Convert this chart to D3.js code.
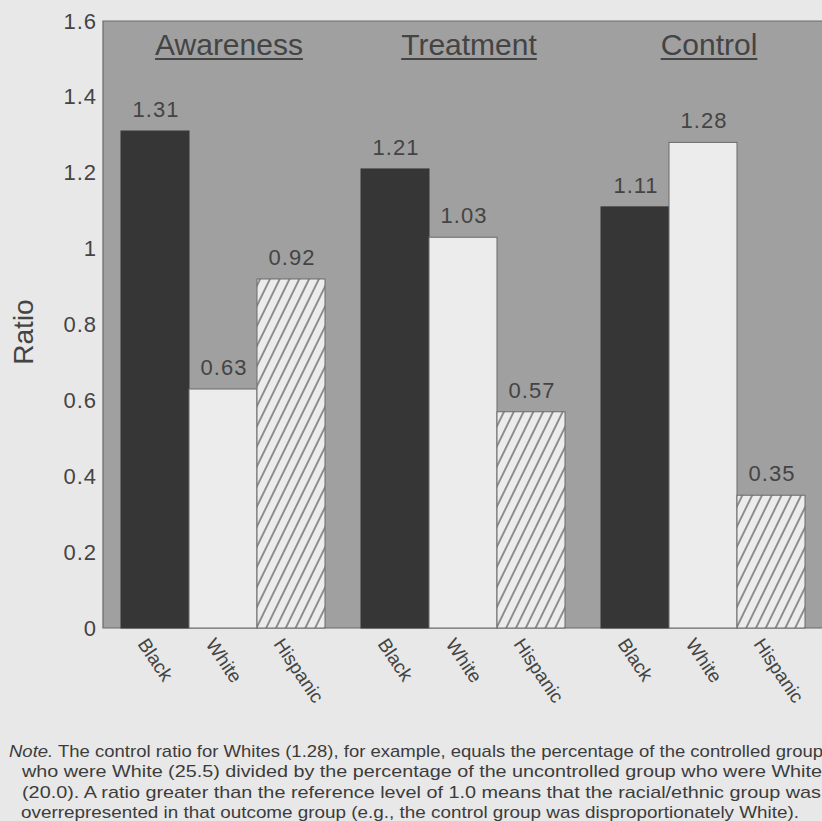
<!DOCTYPE html>
<html>
<head>
<meta charset="utf-8">
<script src="https://cdn.jsdelivr.net/npm/d3@7"></script>
<style>
  body { margin: 0; background: #e8e8e8; }
  svg { display: block; }
  text { font-family: "Liberation Sans", Arial, sans-serif; fill: #444; }
</style>
</head>
<body>
<div id="container"></div>
<script>
/* DATA */
const groups = ["Awareness", "Treatment", "Control"];
const races = ["Black", "White", "Hispanic"];
const awareness = [1.31, 0.63, 0.92];
const treatment = [1.21, 1.03, 0.57];
const control = [1.11, 1.28, 0.35];
const yTicks = [0, 0.2, 0.4, 0.6, 0.8, 1, 1.2, 1.4, 1.6];
const noteLines = [
  "The control ratio for Whites (1.28), for example, equals the percentage of the controlled group",
  "who were White (25.5) divided by the percentage of the uncontrolled group who were White",
  "(20.0). A ratio greater than the reference level of 1.0 means that the racial/ethnic group was",
  "overrepresented in that outcome group (e.g., the control group was disproportionately White)."
];

/* CONSTANTS */
const width = 822, height = 821;
const plotL = 103, plotR = 823, plotT = 21, plotB = 628;

const rows = [awareness, treatment, control];
const data = groups.map((g, i) => ({
  group: g,
  values: races.map((r, j) => ({ race: r, value: rows[i][j] }))
}));

const svg = d3.select("#container")
  .append("svg")
  .attr("width", width)
  .attr("height", height);

// hatch pattern for Hispanic
const hs = 8.8;
const pat = svg.append("defs").append("pattern")
  .attr("id", "hatch")
  .attr("patternUnits", "userSpaceOnUse")
  .attr("width", hs)
  .attr("height", hs)
  .attr("patternTransform", "rotate(26)");
pat.append("rect").attr("width", hs).attr("height", hs).attr("fill", "#ececec");
pat.append("line")
  .attr("x1", 1).attr("y1", 0).attr("x2", 1).attr("y2", hs)
  .attr("stroke", "#5c5c5c").attr("stroke-width", 1.3);

// SCALES
const x0 = d3.scaleBand()
  .domain(groups)
  .range([plotL, plotR])
  .paddingInner(0.15)
  .paddingOuter(0.075);

const x1 = d3.scaleBand()
  .domain(races)
  .range([0, x0.bandwidth()]);

const y = d3.scaleLinear()
  .domain([0, 1.6])
  .range([plotB, plotT]);

const fills = { Black: "#363636", White: "#ececec", Hispanic: "url(#hatch)" };

// plot background
svg.append("rect")
  .attr("x", plotL).attr("y", plotT)
  .attr("width", plotR - plotL).attr("height", plotB - plotT)
  .attr("fill", "#a0a0a0");

// frame lines
svg.append("path")
  .attr("d", `M${plotR},${plotT}H${plotL}V${plotB}H${plotR}`)
  .attr("fill", "none")
  .attr("stroke", "#6a6a6a")
  .attr("stroke-width", 1.2);

// y axis
const yAxis = d3.axisLeft(y)
  .tickValues(yTicks)
  .tickFormat(d3.format("~g"))
  .tickSize(0)
  .tickPadding(6);

svg.append("g")
  .attr("transform", `translate(${plotL},0)`)
  .call(yAxis)
  .call(g => g.select(".domain").remove())
  .selectAll("text")
  .style("font-family", "'Liberation Sans', Arial, sans-serif")
  .style("font-size", "22px")
  .style("letter-spacing", "1px")
  .style("fill", "#444");

svg.append("text")
  .attr("transform", "translate(33,332) rotate(-90)")
  .attr("text-anchor", "middle")
  .style("font-size", "28px")
  .text("Ratio");

// bars
const gg = svg.append("g")
  .selectAll("g")
  .data(data)
  .join("g")
  .attr("transform", d => `translate(${x0(d.group)},0)`);

gg.selectAll("rect")
  .data(d => d.values)
  .join("rect")
  .attr("x", d => x1(d.race))
  .attr("y", d => y(d.value))
  .attr("width", x1.bandwidth())
  .attr("height", d => plotB - y(d.value))
  .attr("fill", d => fills[d.race])
  .attr("stroke", d => d.race === "Black" ? "#363636" : "#6a6a6a")
  .attr("stroke-width", 1);

gg.selectAll("text.val")
  .data(d => d.values)
  .join("text")
  .attr("class", "val")
  .attr("x", d => x1(d.race) + x1.bandwidth() / 2 + 1)
  .attr("y", d => y(d.value) - 14)
  .attr("text-anchor", "middle")
  .style("font-size", "22px")
  .style("letter-spacing", "1px")
  .text(d => d.value.toFixed(2));

// x labels, rotated
gg.selectAll("text.cat")
  .data(d => d.values)
  .join("text")
  .attr("class", "cat")
  .attr("transform", d => `translate(${x1(d.race) + x1.bandwidth() / 2 - 18},${plotB + 16}) rotate(56)`)
  .style("font-size", "19px")
  .text(d => d.race);

// group headers with underline
gg.each(function(d) {
  const g = d3.select(this);
  const cx = x0.bandwidth() / 2 + 6;
  const t = g.append("text")
    .attr("x", cx)
    .attr("y", 55)
    .attr("text-anchor", "middle")
    .style("font-size", "30px")
    .text(d.group);
  const w = t.node().getComputedTextLength();
  g.append("line")
    .attr("x1", cx - w / 2).attr("x2", cx + w / 2)
    .attr("y1", 59).attr("y2", 59)
    .attr("stroke", "#444")
    .attr("stroke-width", 2);
});

// note
const note = svg.append("g")
  .style("font-family", "'Liberation Sans', Arial, sans-serif")
  .style("font-size", "17px");

const noteX = [9, 22, 22, 21];
const noteEnd = [823, 822, 821, 799];
noteLines.forEach((line, i) => {
  const t = note.append("text")
    .attr("x", noteX[i])
    .attr("y", 757 + i * 20.4)
    .style("fill", "#3c3c3c");
  if (i === 0) {
    t.append("tspan").style("font-style", "italic").text("Note.");
    t.append("tspan").text(" " + line);
  } else {
    t.text(line);
  }
  t.attr("textLength", noteEnd[i] - noteX[i])
    .attr("lengthAdjust", "spacingAndGlyphs");
});
</script>
</body>
</html>
